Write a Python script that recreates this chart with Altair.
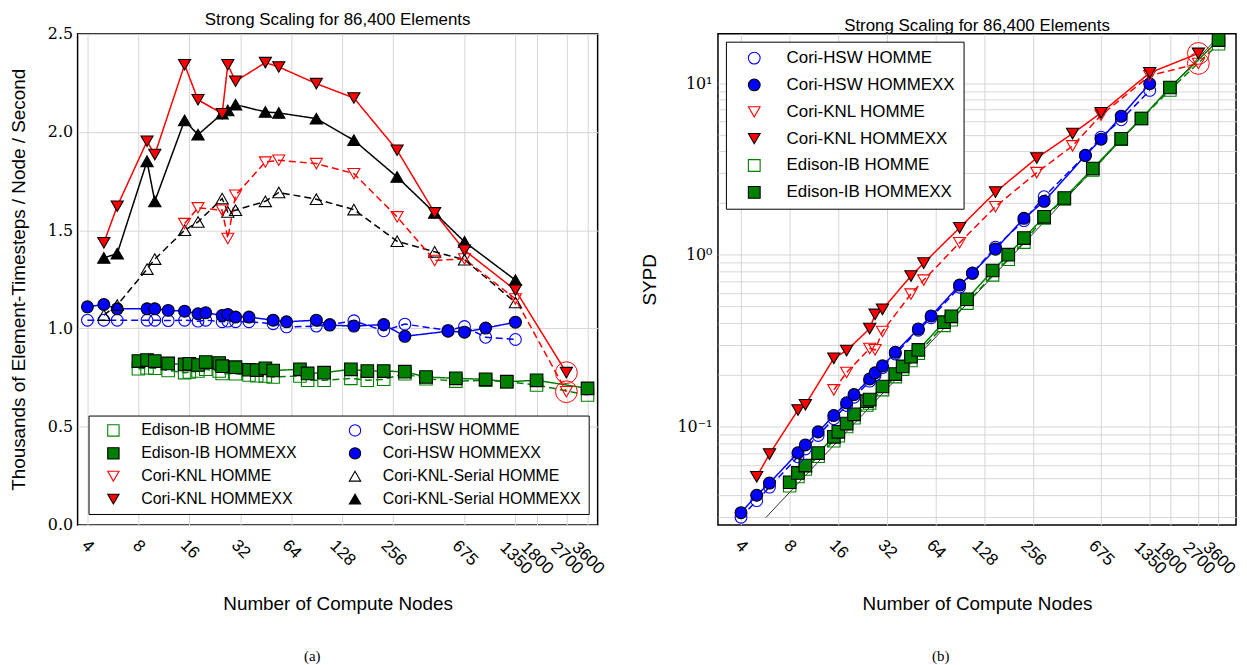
import altair as alt
import pandas as pd

# ---------------- data ----------------
xticks = [4, 8, 16, 32, 64, 128, 256, 675, 1350, 1800, 2700, 3600]

edison_nodes = [8, 9, 10, 12, 15, 16, 18, 20, 24, 25, 30, 36, 40, 45, 50, 72, 80, 100,
                144, 180, 225, 300, 400, 600, 900, 1200, 1800, 3600]
edison_homme_tput = [0.795, 0.800, 0.797, 0.786, 0.775, 0.778, 0.783, 0.792, 0.783, 0.771,
                     0.769, 0.763, 0.759, 0.758, 0.753, 0.758, 0.736, 0.736, 0.746, 0.736,
                     0.741, 0.769, 0.744, 0.732, 0.736, 0.729, 0.712, 0.661]
edison_hommexx_tput = [0.834, 0.839, 0.834, 0.822, 0.817, 0.820, 0.814, 0.829, 0.824, 0.808,
                       0.803, 0.790, 0.788, 0.797, 0.786, 0.792, 0.771, 0.775, 0.792, 0.783,
                       0.783, 0.780, 0.753, 0.746, 0.741, 0.729, 0.736, 0.695]
edison_homme_sypd = [0.0453, 0.0513, 0.0567, 0.0672, 0.0828, 0.0886, 0.1003, 0.1128, 0.1338,
                     0.1372, 0.1643, 0.1956, 0.2162, 0.2429, 0.2681, 0.3886, 0.4192, 0.5240,
                     0.7649, 0.9433, 1.187, 1.643, 2.119, 3.127, 4.716, 6.229, 9.125, 16.94]
edison_hommexx_sypd = [0.0475, 0.0538, 0.0594, 0.0702, 0.0873, 0.0934, 0.1043, 0.1181, 0.1408,
                       0.1438, 0.1715, 0.2025, 0.2244, 0.2554, 0.2798, 0.4060, 0.4392, 0.5518,
                       0.8120, 1.003, 1.254, 1.666, 2.145, 3.187, 4.748, 6.229, 9.433, 17.81]

hsw_nodes = [4, 5, 6, 9, 10, 12, 15, 18, 20, 25, 27, 30, 36, 50, 60, 90, 108, 150, 225,
             300, 540, 675, 900, 1350]
hsw_homme_tput = [1.042, 1.042, 1.042, 1.042, 1.042, 1.040, 1.042, 1.037, 1.042, 1.034,
                  1.037, 1.034, 1.034, 1.024, 1.008, 1.012, 1.020, 1.039, 0.988, 1.022,
                  0.990, 1.010, 0.955, 0.944]
hsw_hommexx_tput = [1.110, 1.122, 1.100, 1.100, 1.100, 1.092, 1.088, 1.075, 1.080, 1.066,
                    1.071, 1.058, 1.058, 1.042, 1.034, 1.042, 1.017, 1.012, 1.020, 0.960,
                    0.986, 0.981, 1.002, 1.032]
hsw_homme_sypd = [0.0297, 0.0371, 0.0445, 0.0668, 0.0742, 0.0889, 0.1113, 0.1329, 0.1484,
                  0.1841, 0.1994, 0.2209, 0.2650, 0.3645, 0.4306, 0.6485, 0.7844, 1.110,
                  1.583, 2.183, 3.806, 4.854, 6.120, 9.074]
hsw_hommexx_sypd = [0.0316, 0.0399, 0.0470, 0.0705, 0.0783, 0.0933, 0.1162, 0.1378, 0.1538,
                    0.1897, 0.2059, 0.2260, 0.2712, 0.3710, 0.4417, 0.6677, 0.7820, 1.081,
                    1.634, 2.051, 3.791, 4.715, 6.421, 9.920]

knl_homme_nodes = [15, 18, 25, 27, 30, 45, 54, 90, 150, 270, 450, 675, 1350, 2700]
knl_homme_tput = [1.534, 1.614, 1.602, 1.458, 1.678, 1.847, 1.856, 1.839, 1.788, 1.568,
                  1.346, 1.354, 1.150, 0.678]
knl_homme_sypd = [0.1638, 0.2069, 0.2852, 0.2803, 0.3584, 0.5918, 0.7136, 1.178, 1.910,
                  3.014, 4.313, 6.507, 11.05, 13.03]

knl_hommexx_nodes = [5, 6, 9, 10, 15, 18, 25, 27, 30, 45, 54, 90, 150, 270, 450, 675, 1350, 2700]
knl_hommexx_tput = [1.436, 1.622, 1.953, 1.885, 2.342, 2.164, 2.093, 2.342, 2.258, 2.353,
                    2.331, 2.246, 2.173, 1.907, 1.588, 1.398, 1.195, 0.775]
knl_hommexx_sypd = [0.0511, 0.0693, 0.1251, 0.1342, 0.2501, 0.2773, 0.3726, 0.4502, 0.4823,
                    0.7539, 0.8962, 1.439, 2.321, 3.666, 5.088, 6.719, 11.49, 14.90]

serial_nodes = [5, 6, 9, 10, 15, 18, 25, 27, 30, 45, 54, 90, 150, 270, 450, 675, 1350]
serial_homme_tput = [1.068, 1.119, 1.302, 1.353, 1.500, 1.542, 1.661, 1.593, 1.602, 1.647,
                     1.692, 1.658, 1.605, 1.444, 1.390, 1.350, 1.132]
serial_hommexx_tput = [1.359, 1.381, 1.851, 1.647, 2.059, 1.986, 2.093, 2.110, 2.139, 2.102,
                       2.097, 2.068, 1.958, 1.771, 1.588, 1.441, 1.246]

ideal_nodes = [5.7, 3600]
ideal_sypd = [0.0296, 18.7]
highlight_node = 2700

# legend order (the left legend is filled column by column, 4 rows x 2 columns)
left_order = ["Edison-IB HOMME", "Edison-IB HOMMEXX",
              "Cori-KNL HOMME", "Cori-KNL HOMMEXX",
              "Cori-HSW HOMME", "Cori-HSW HOMMEXX",
              "Cori-KNL-Serial HOMME", "Cori-KNL-Serial HOMMEXX"]
right_order = ["Cori-HSW HOMME", "Cori-HSW HOMMEXX", "Cori-KNL HOMME",
               "Cori-KNL HOMMEXX", "Edison-IB HOMME", "Edison-IB HOMMEXX"]


def tbl(name, nodes, vals):
    return pd.DataFrame({"series": name, "nodes": nodes, "value": vals})


left_df = pd.concat([
    tbl("Edison-IB HOMME", edison_nodes, edison_homme_tput),
    tbl("Edison-IB HOMMEXX", edison_nodes, edison_hommexx_tput),
    tbl("Cori-HSW HOMME", hsw_nodes, hsw_homme_tput),
    tbl("Cori-HSW HOMMEXX", hsw_nodes, hsw_hommexx_tput),
    tbl("Cori-KNL-Serial HOMME", serial_nodes, serial_homme_tput),
    tbl("Cori-KNL-Serial HOMMEXX", serial_nodes, serial_hommexx_tput),
    tbl("Cori-KNL HOMME", knl_homme_nodes, knl_homme_tput),
    tbl("Cori-KNL HOMMEXX", knl_hommexx_nodes, knl_hommexx_tput),
], ignore_index=True)

right_df = pd.concat([
    tbl("Edison-IB HOMME", edison_nodes, edison_homme_sypd),
    tbl("Edison-IB HOMMEXX", edison_nodes, edison_hommexx_sypd),
    tbl("Cori-HSW HOMME", hsw_nodes, hsw_homme_sypd),
    tbl("Cori-HSW HOMMEXX", hsw_nodes, hsw_hommexx_sypd),
    tbl("Cori-KNL HOMME", knl_homme_nodes, knl_homme_sypd),
    tbl("Cori-KNL HOMMEXX", knl_hommexx_nodes, knl_hommexx_sypd),
], ignore_index=True)

ideal_df = pd.DataFrame({"nodes": ideal_nodes, "value": ideal_sypd})

knl_names = ["Cori-KNL HOMME", "Cori-KNL HOMMEXX"]
left_hl = left_df[left_df.series.isin(knl_names) & (left_df.nodes == highlight_node)]
right_hl = right_df[right_df.series.isin(knl_names) & (right_df.nodes == highlight_node)]

# ---------------- styles ----------------
GREEN, RED, BLUE, BLACK = "#008000", "#ff0000", "#0000ff", "#000000"
SOLID, DASH = [1, 0], [7, 4]
STYLE = {
    "Edison-IB HOMME":         dict(line=GREEN, dash=DASH, shape="square", fill="transparent", stroke=GREEN, size=80),
    "Edison-IB HOMMEXX":       dict(line=GREEN, dash=SOLID, shape="square", fill=GREEN, stroke=BLACK, size=90),
    "Cori-HSW HOMME":          dict(line=BLUE, dash=DASH, shape="circle", fill="transparent", stroke=BLUE, size=140),
    "Cori-HSW HOMMEXX":        dict(line=BLUE, dash=SOLID, shape="circle", fill=BLUE, stroke=BLACK, size=160),
    "Cori-KNL HOMME":          dict(line=RED, dash=DASH, shape="triangle-down", fill="transparent", stroke=RED, size=150),
    "Cori-KNL HOMMEXX":        dict(line=RED, dash=SOLID, shape="triangle-down", fill=RED, stroke=BLACK, size=170),
    "Cori-KNL-Serial HOMME":   dict(line=BLACK, dash=DASH, shape="triangle-up", fill="transparent", stroke=BLACK, size=150),
    "Cori-KNL-Serial HOMMEXX": dict(line=BLACK, dash=SOLID, shape="triangle-up", fill=BLACK, stroke=BLACK, size=170),
}

SANS = "Liberation Sans"
SERIF = "DejaVu Serif"
H = 494
WL, WR = 523, 521

x_label_pad = {"condition": [
    {"test": "datum.value < 10", "value": 21},
    {"test": "datum.value < 100", "value": 24},
    {"test": "datum.value < 1000", "value": 28},
], "value": 33}


def x_enc(domain):
    return alt.X("nodes:Q",
                 scale=alt.Scale(type="log", domain=domain, nice=False, zero=False),
                 axis=alt.Axis(values=xticks, format="d", title="Number of Compute Nodes",
                               labelAngle=45, labelAlign="center", labelBaseline="middle",
                               labelPadding=x_label_pad, labelOverlap=False, labelFlush=False,
                               labelBound=False, labelFont=SANS, labelFontSize=17,
                               titleFont=SANS, titleFontSize=19, titlePadding=18,
                               titleFontWeight="normal"))


def series_layers(df, order, X, Y, legend):
    # legend channels: explicit domain (sets legend order)
    def sc(key):
        return alt.Scale(domain=order, range=[STYLE[s][key] for s in order])

    # non-legend channels: data-driven (alphabetical) domain so they do not merge with the legend
    def sc_data(key):
        return alt.Scale(range=[STYLE[s][key] for s in sorted(order)])

    lines = alt.Chart(df).mark_line(strokeWidth=1.5).encode(
        x=X, y=Y,
        color=alt.Color("series:N", scale=sc_data("line"), legend=None),
        strokeDash=alt.StrokeDash("series:N", scale=sc_data("dash"), legend=None),
        detail="series:N",
    )
    points = alt.Chart(df).mark_point(opacity=1, strokeWidth=1.1).encode(
        x=X, y=Y,
        shape=alt.Shape("series:N", scale=sc("shape"), legend=legend),
        fill=alt.Fill("series:N", scale=sc("fill"), legend=legend),
        stroke=alt.Stroke("series:N", scale=sc("stroke"), legend=legend),
        size=alt.Size("series:N", scale=sc_data("size"), legend=None),
    )
    return lines, points


title_params = dict(fontSize=17, font=SANS, fontWeight="normal", offset=-3, frame="group",
                    anchor="middle", color="black")

# ---------------- left panel ----------------
XL = x_enc([3.5, 4130])
YL = alt.Y("value:Q", scale=alt.Scale(domain=[0, 2.5], nice=False, zero=True),
           axis=alt.Axis(values=[0, 0.5, 1.0, 1.5, 2.0, 2.5], format=".1f",
                         title="Thousands of Element-Timesteps / Node / Second",
                         labelFont=SERIF, labelFontSize=16, labelPadding=5,
                         titleFont=SANS, titleFontSize=19, titlePadding=19,
                         titleFontWeight="normal"))
leg_left = alt.Legend(title=None, orient="bottom-left", columns=2, offset=11,
                      fillColor="white", strokeColor="black", padding=7,
                      labelFont=SANS, labelFontSize=16, labelLimit=400,
                      columnPadding=40, rowPadding=7, symbolSize=130,
                      symbolOffset=10, labelOffset=20,
                      symbolStrokeWidth=1.1)
l_lines, l_points = series_layers(left_df, left_order, XL, YL, leg_left)
l_hl = alt.Chart(left_hl).mark_point(shape="circle", size=480, filled=False, color=RED,
                                     strokeWidth=1, opacity=1).encode(x=XL, y=YL)
l_cap = alt.Chart(pd.DataFrame({"t": ["(a)"]})).mark_text(
    font="Liberation Serif", fontSize=15, color="black").encode(
    x=alt.value(236), y=alt.value(626), text="t:N")
left = alt.layer(l_lines, l_points, l_hl, l_cap).properties(
    width=WL, height=H,
    title=alt.TitleParams("Strong Scaling for 86,400 Elements", **title_params))

# ---------------- right panel ----------------
yvals = ([round(0.01 * k, 2) for k in range(3, 10)] + [round(0.1 * k, 1) for k in range(1, 10)]
         + list(range(1, 10)) + [10])
XR = x_enc([2.88, 4615])
YR = alt.Y("value:Q", scale=alt.Scale(type="log", domain=[0.0268, 19.4], nice=False),
           axis=alt.Axis(values=yvals, title="SYPD",
                         labelExpr="datum.value == 0.1 ? '10⁻¹' : datum.value == 1 ? '10⁰' : datum.value == 10 ? '10¹' : ''",
                         labelFont=SERIF, labelFontSize=16, labelPadding=6,
                         labelOverlap=False, labelBound=False, labelFlush=False,
                         titleFont=SANS, titleFontSize=19, titlePadding=18,
                         titleFontWeight="normal"))
leg_right = alt.Legend(title=None, orient="top-left", columns=1, offset=8,
                       fillColor="white", strokeColor="black", padding=8,
                       labelFont=SANS, labelFontSize=17, labelLimit=400,
                       rowPadding=9, symbolSize=140,
                       symbolOffset=12, labelOffset=24,
                       symbolStrokeWidth=1.1)
r_ideal = alt.Chart(ideal_df).mark_line(color="black", strokeWidth=0.8).encode(x=XR, y=YR)
r_lines, r_points = series_layers(right_df, right_order, XR, YR, leg_right)
r_hl = alt.Chart(right_hl).mark_point(shape="circle", size=480, filled=False, color=RED,
                                      strokeWidth=1, opacity=1).encode(x=XR, y=YR)
r_cap = alt.Chart(pd.DataFrame({"t": ["(b)"]})).mark_text(
    font="Liberation Serif", fontSize=15, color="black").encode(
    x=alt.value(224), y=alt.value(626), text="t:N")
right = alt.layer(r_ideal, r_lines, r_points, r_hl, r_cap).properties(
    width=WR, height=H,
    title=alt.TitleParams("Strong Scaling for 86,400 Elements", **title_params))

chart = alt.hconcat(left, right, spacing=121, bounds="flush", padding=0).resolve_scale(
    x="independent", y="independent", color="independent", strokeDash="independent",
    shape="independent", fill="independent", stroke="independent", size="independent",
).configure_view(
    stroke="black", strokeWidth=1.5
).configure_axis(
    grid=True, gridColor="#d6d6d6", gridWidth=1, domain=False, ticks=False,
    labelColor="black", titleColor="black"
)

chart.save("out.html", embed_options={"renderer": "svg", "actions": False})
